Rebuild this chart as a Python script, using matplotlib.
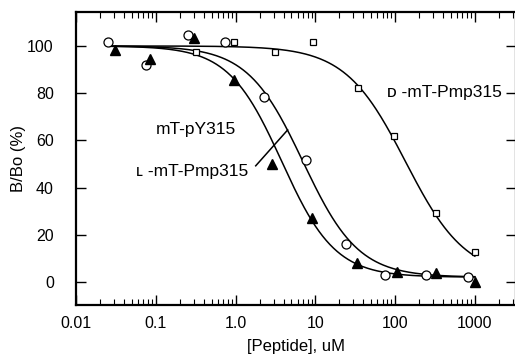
import numpy as np
import matplotlib
matplotlib.use("Agg")
import matplotlib.pyplot as plt
from matplotlib.ticker import FixedLocator, FixedFormatter, NullFormatter

plt.rcParams['font.family'] = ['Liberation Sans', 'DejaVu Sans']

# mT-pY315 (open circles)
py_conc = [0.025, 0.075, 0.25, 0.73, 2.3, 7.6, 24, 74, 245, 830]
py_bound = [101.5, 92, 104.5, 101.7, 78.5, 51.5, 16, 3, 3, 2]

# L-mT-Pmp315 (filled triangles)
l_conc = [0.031, 0.085, 0.3, 0.97, 2.9, 9.1, 33, 107, 330, 1000]
l_bound = [98.5, 94.5, 103.5, 85.5, 50, 27, 8, 4.2, 3.8, 0]

# D-mT-Pmp315 (open squares)
d_conc = [0.32, 0.97, 3.1, 9.3, 34, 98, 330, 1000]
d_bound = [97.5, 101.5, 97.5, 101.7, 82, 62, 29, 12.7]

# fitted curve parameters: IC50 (uM), Hill slope, bottom
py_fit = [7.0, 1.25, 2.0]
l_fit = [3.8, 1.3, 2.0]
d_fit = [135.0, 1.15, 2.0]

xticks = [0.01, 0.1, 1.0, 10, 100, 1000]
xticklabels = ["0.01", "0.1", "1.0", "10", "100", "1000"]
yticks = [0, 20, 40, 60, 80, 100]


def hill(x, ic50, n, bottom, top=100.0):
    return bottom + (top - bottom) / (1 + (x / ic50) ** n)


fig = plt.figure(figsize=(5.15, 3.54), dpi=100)
ax = fig.add_axes([76 / 515, 1 - 305 / 354, 440 / 515, 293 / 354])

xs = np.logspace(np.log10(0.027), 3, 300)
for p in (py_fit, l_fit, d_fit):
    ax.plot(xs, hill(xs, *p), color='black', lw=1.1, zorder=2)

ax.plot(py_conc, py_bound, 'o', ms=6.5, mfc='white', mec='black', mew=0.9, zorder=3)
ax.plot(l_conc, l_bound, '^', ms=6.8, mfc='black', mec='black', zorder=4)
ax.plot(d_conc, d_bound, 's', ms=4.8, mfc='white', mec='black', mew=0.9, zorder=3)

# pointer line from the L label across the curves
ax.plot([1.79, 4.5], [49.2, 64.4], color='black', lw=1.1, zorder=2)

ax.text(0.101, 64.4, "mT-pY315", fontsize=12.5, ha='left', va='center')
ax.text(0.057, 46.6, "\u029f -mT-Pmp315", fontsize=12.5, ha='left', va='center')
ax.text(80, 80.1, "\u1d05 -mT-Pmp315", fontsize=12.5, ha='left', va='center')

ax.set_xscale('log')
ax.set_xlim(0.01, 3280)
ax.set_ylim(-9.8, 114.4)

ax.xaxis.set_major_locator(FixedLocator(xticks))
ax.xaxis.set_major_formatter(FixedFormatter(xticklabels))
ax.xaxis.set_minor_formatter(NullFormatter())
ax.set_yticks(yticks)

ax.tick_params(axis='both', which='both', direction='in', top=True, right=True,
               labelsize=11.5)
ax.tick_params(axis='x', which='major', length=7, width=1.0, pad=8)
ax.tick_params(axis='x', which='minor', length=4, width=0.8)
ax.tick_params(axis='y', which='major', length=7, width=1.0, pad=16)
ax.tick_params(axis='y', which='minor', left=False, right=False)

for s in ax.spines.values():
    s.set_linewidth(1.6)

ax.set_xlabel("[Peptide], uM", fontsize=12, labelpad=6)
ax.set_ylabel("B/Bo (%)", fontsize=12, labelpad=1)

fig.savefig("out.png", dpi=100)
